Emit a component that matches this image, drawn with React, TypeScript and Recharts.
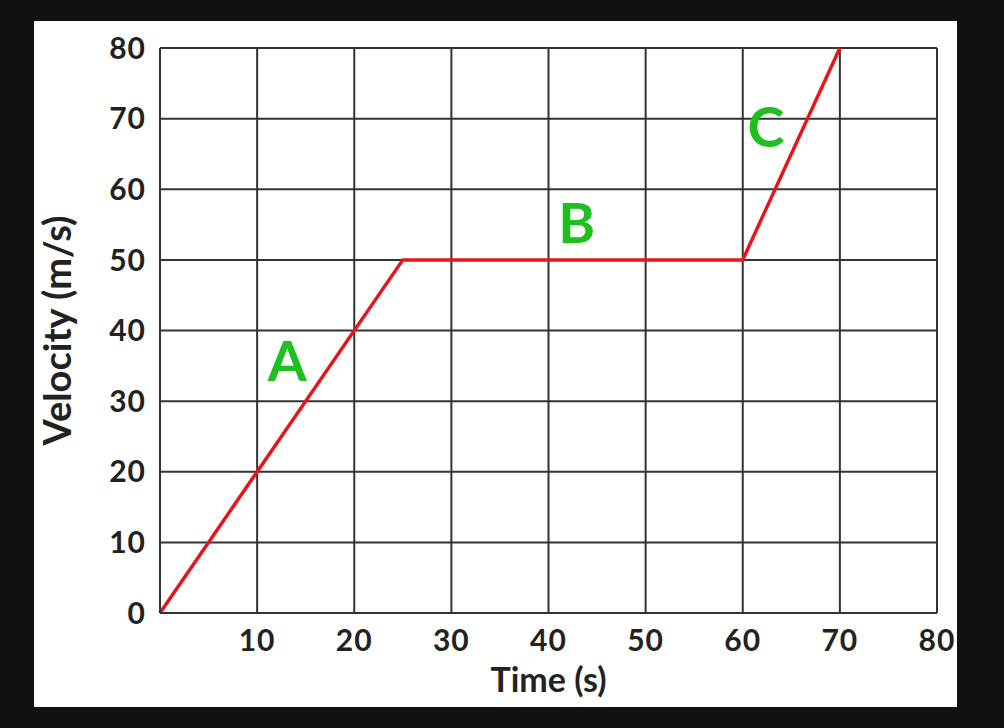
import { CartesianGrid, Label, Line, LineChart, ReferenceDot, XAxis, YAxis } from "recharts"

// velocity-time graph: time (s) vs velocity (m/s)
const times = [0, 25, 60, 70]
const velocities = [0, 50, 50, 80]

const xTicks = [10, 20, 30, 40, 50, 60, 70, 80]
const yTicks = [0, 10, 20, 30, 40, 50, 60, 70, 80]

// segment letters, placed in data units
const segmentNames = ["A", "B", "C"]
const segmentX = [13.1, 42.9, 62.4]
const segmentY = [35.7, 55.2, 68.8]

const data = times.map((t, i) => ({ time: t, velocity: velocities[i] }))
const segments = segmentNames.map((name, i) => ({ name, x: segmentX[i], y: segmentY[i] }))

const font = "Lato, 'Open Sans', sans-serif"
const ink = "#222"
const gridColor = "#333"

const tickStyle = { fill: ink, fontSize: 30, fontWeight: 700, fontFamily: font, letterSpacing: 1 }

export default function App() {
  return (
    <div
      style={{
        position: "absolute",
        left: 0,
        top: 0,
        width: 1004,
        height: 728,
        background: "#111",
      }}
    >
      <div
        style={{
          position: "absolute",
          left: 34,
          top: 21,
          width: 923,
          height: 686,
          background: "#fff",
        }}
      >
        <LineChart
          width={923}
          height={686}
          data={data}
          margin={{ top: 27, right: 20, bottom: 34, left: 30 }}
        >
          <CartesianGrid stroke={gridColor} strokeWidth={2} />
          <XAxis
            dataKey="time"
            type="number"
            domain={[0, 80]}
            ticks={xTicks}
            tickLine={false}
            axisLine={{ stroke: gridColor, strokeWidth: 2 }}
            tick={tickStyle}
            tickMargin={11}
            height={60}
            interval={0}
          >
            <Label
              value="Time (s)"
              position="insideBottom"
              offset={-19}
              style={{ fill: ink, fontSize: 34, fontWeight: 700, fontFamily: font }}
            />
          </XAxis>
          <YAxis
            type="number"
            domain={[0, 80]}
            ticks={yTicks}
            tickLine={false}
            axisLine={{ stroke: gridColor, strokeWidth: 2 }}
            tick={tickStyle}
            tickMargin={8}
            width={96}
            interval={0}
          >
            <Label
              value="Velocity (m/s)"
              angle={-90}
              position="insideLeft"
              offset={-6}
              style={{ fill: ink, fontSize: 38, fontWeight: 700, fontFamily: font, textAnchor: "middle" }}
            />
          </YAxis>
          <Line
            type="linear"
            dataKey="velocity"
            stroke="#e8141c"
            strokeWidth={3.5}
            dot={false}
            activeDot={false}
            isAnimationActive={false}
          />
          {segments.map((s) => (
            <ReferenceDot
              key={s.name}
              x={s.x}
              y={s.y}
              r={0}
              stroke="none"
              fill="none"
              label={{
                value: s.name,
                position: "center",
                fill: "#1fbf1f",
                fontSize: 56,
                fontWeight: 700,
                fontFamily: font,
              }}
            />
          ))}
        </LineChart>
      </div>
    </div>
  )
}
